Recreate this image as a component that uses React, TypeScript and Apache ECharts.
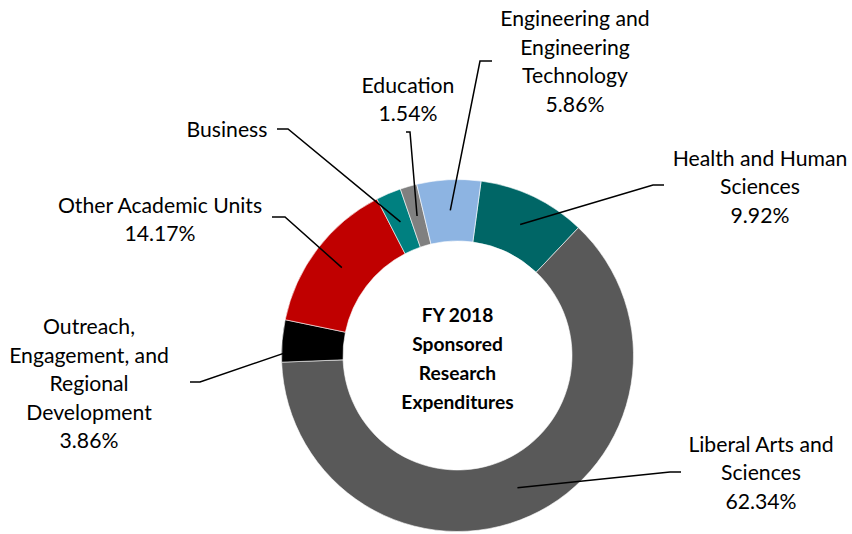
import React, { useEffect, useRef } from "react";
import * as echarts from "echarts";

const categories = [
  "Health and Human Sciences",
  "Liberal Arts and Sciences",
  "Outreach, Engagement, and Regional Development",
  "Other Academic Units",
  "Business",
  "Education",
  "Engineering and Engineering Technology",
];
const labelText = [
  "Health and Human\nSciences",
  "Liberal Arts and\nSciences",
  "Outreach,\nEngagement, and\nRegional\nDevelopment",
  "Other Academic Units",
  "Business",
  "Education",
  "Engineering and\nEngineering\nTechnology",
];
const shares = [9.92, 62.34, 3.86, 14.17, 2.31, 1.54, 5.86];
const showPercent = [true, true, true, true, false, true, true];
const colors = ["#006666", "#595959", "#000000", "#C00000", "#008080", "#808080", "#8DB4E2"];
const centerTitle = "FY 2018\nSponsored\nResearch\nExpenditures";

// layout (positions only)
const CX = 457.5;
const CY = 355.5;
const R_IN = 114.5;
const R_OUT = 176;
const START_FROM_TOP = 7.7; // degrees clockwise from 12 o'clock
const labelPos = [
  { x: 760, y: 186, elbow: [653, 185], end: [664, 185] },
  { x: 761, y: 472, elbow: [670, 472], end: [681, 472] },
  { x: 89, y: 383, elbow: [200, 382], end: [190, 382] },
  { x: 160, y: 219, elbow: [285, 217], end: [272, 217] },
  { x: 227, y: 129, elbow: [288, 129], end: [277, 129] },
  { x: 408, y: 99, elbow: [410, 132], end: [406, 132] },
  { x: 575, y: 61, elbow: [480, 61], end: [492, 61] },
];

const FONT = "Lato, 'Open Sans', sans-serif";

export default function App() {
  const ref = useRef<HTMLDivElement>(null);
  useEffect(() => {
    if (!ref.current) return;
    const chart = echarts.init(ref.current, undefined, { renderer: "svg" });
    const total = shares.reduce((a, b) => a + b, 0);
    const midPoint = (idx: number) => {
      let cum = 0;
      for (let i = 0; i < idx; i++) cum += shares[i];
      const deg = START_FROM_TOP + (360 * (cum + shares[idx] / 2)) / total;
      const rad = (deg * Math.PI) / 180;
      const rm = (R_IN + R_OUT) / 2;
      return [CX + rm * Math.sin(rad), CY - rm * Math.cos(rad)];
    };
    const common = {
      type: "pie",
      center: [CX, CY],
      radius: [R_IN, R_OUT],
      startAngle: 90 - START_FROM_TOP,
      clockwise: true,
      avoidLabelOverlap: false,
      silent: true,
      emphasis: { disabled: true },
    };
    chart.setOption({
      animation: false,
      backgroundColor: "#ffffff",
      graphic: [
        {
          type: "text",
          x: CX,
          y: CY + 2,
          style: {
            text: centerTitle,
            font: `bold 19.2px ${FONT}`,
            fill: "#000",
            align: "center",
            verticalAlign: "middle",
            lineHeight: 29,
          },
          z: 10,
        },
      ],
      series: [
        {
          ...common,
          z: 2,
          itemStyle: { borderColor: "#ffffff", borderWidth: 0.6 },
          label: { show: false },
          labelLine: { show: false },
          data: categories.map((name, i) => ({
            name,
            value: shares[i],
            itemStyle: { color: colors[i] },
          })),
        },
        {
          ...common,
          z: 6,
          itemStyle: { color: "rgba(0,0,0,0)", borderWidth: 0 },
          data: categories.map((name, i) => ({ name, value: shares[i] })),
          label: {
            show: true,
            position: "outside",
            formatter: (p: any) =>
              labelText[p.dataIndex] +
              (showPercent[p.dataIndex] ? "\n" + shares[p.dataIndex].toFixed(2) + "%" : ""),
            fontFamily: FONT,
            fontSize: 21.2,
            color: "#000",
            lineHeight: 28.5,
            align: "center",
          },
          labelLine: {
            show: true,
            lineStyle: { color: "#000", width: 1.5 },
          },
          labelLayout: (params: any) => {
            const i = params.dataIndex;
            const lp = labelPos[i];
            return {
              x: lp.x,
              y: lp.y,
              align: "center",
              verticalAlign: "middle",
              labelLinePoints: [midPoint(i), lp.elbow, lp.end],
            };
          },
        },
      ],
    });
    return () => chart.dispose();
  }, []);
  return (
    <div
      ref={ref}
      style={{ position: "fixed", left: 0, top: 0, width: 852, height: 534 }}
    />
  );
}
